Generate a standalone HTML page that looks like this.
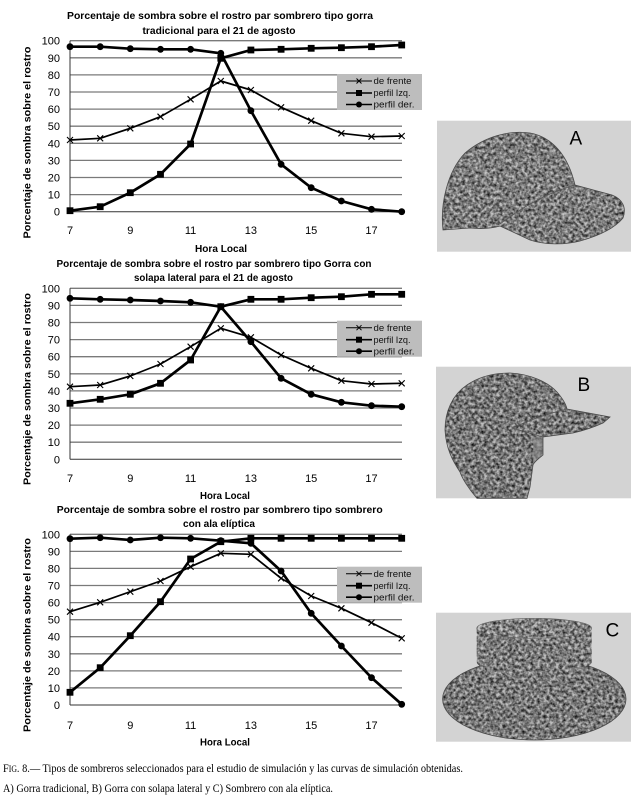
<!DOCTYPE html>
<html><head><meta charset="utf-8"><style>
html,body{margin:0;padding:0;background:#fff;}
svg{display:block;}
</style></head><body>
<svg width="638" height="802" viewBox="0 0 638 802" xmlns="http://www.w3.org/2000/svg">
<defs>
<marker id="mc" viewBox="-5 -5 10 10" markerWidth="10" markerHeight="10" refX="0" refY="0" markerUnits="userSpaceOnUse"><circle r="3.4" fill="#000"/></marker>
<marker id="ms" viewBox="-5 -5 10 10" markerWidth="10" markerHeight="10" refX="0" refY="0" markerUnits="userSpaceOnUse"><rect x="-3.4" y="-3.4" width="6.8" height="6.8" fill="#000"/></marker>
<marker id="mx" viewBox="-5 -5 10 10" markerWidth="10" markerHeight="10" refX="0" refY="0" markerUnits="userSpaceOnUse"><path d="M-3,-3L3,3M-3,3L3,-3" stroke="#000" stroke-width="1.1" fill="none"/></marker>
<filter id="tex" x="0%" y="0%" width="100%" height="100%" color-interpolation-filters="sRGB">
<feTurbulence type="fractalNoise" baseFrequency="0.32" numOctaves="2" seed="7" result="n"/>
<feColorMatrix in="n" type="matrix" values="1.5 0 0 0 -0.12  1.5 0 0 0 -0.12  1.5 0 0 0 -0.12  0 0 0 0 1" result="g"/>
<feBlend in="g" in2="SourceGraphic" mode="multiply" result="m"/>
<feComposite in="m" in2="SourceGraphic" operator="in"/>
</filter>
</defs>
<rect width="638" height="802" fill="#fff"/>

<g font-family="'Liberation Sans', sans-serif">
<!-- ============ CHART 1 ============ -->
<g>
<text x="220" y="19" font-size="10.5" font-weight="bold" text-anchor="middle" textLength="306" lengthAdjust="spacingAndGlyphs">Porcentaje de sombra sobre  el rostro par sombrero tipo gorra</text>
<text x="219" y="34" font-size="10.5" font-weight="bold" text-anchor="middle" textLength="153" lengthAdjust="spacingAndGlyphs">tradicional para el 21 de agosto</text>
<g stroke="#7a7a7a" stroke-width="1.3">
<line x1="70" x2="402" y1="40.7" y2="40.7"/><line x1="70" x2="402" y1="57.8" y2="57.8"/><line x1="70" x2="402" y1="74.9" y2="74.9"/><line x1="70" x2="402" y1="92" y2="92"/><line x1="70" x2="402" y1="109.1" y2="109.1"/><line x1="70" x2="402" y1="126.2" y2="126.2"/><line x1="70" x2="402" y1="143.3" y2="143.3"/><line x1="70" x2="402" y1="160.4" y2="160.4"/><line x1="70" x2="402" y1="177.5" y2="177.5"/><line x1="70" x2="402" y1="194.6" y2="194.6"/>
</g>
<line x1="70" x2="402" y1="211.7" y2="211.7" stroke="#333" stroke-width="1"/>
<line x1="70" x2="70" y1="40.7" y2="211.7" stroke="#333" stroke-width="1"/>
<g font-size="11" text-anchor="end" fill="#000">
<text x="60" y="44.7">100</text><text x="60" y="61.8">90</text><text x="60" y="78.9">80</text><text x="60" y="96">70</text><text x="60" y="113.1">60</text><text x="60" y="130.2">50</text><text x="60" y="147.3">40</text><text x="60" y="164.4">30</text><text x="60" y="181.5">20</text><text x="60" y="198.6">10</text><text x="60" y="215.7">0</text>
</g>
<g font-size="11" text-anchor="middle" fill="#000">
<text x="70" y="234">7</text><text x="130.3" y="234">9</text><text x="190.6" y="234">11</text><text x="250.9" y="234">13</text><text x="311.2" y="234">15</text><text x="371.5" y="234">17</text>
</g>
<text x="221" y="252" font-size="10.5" font-weight="bold" text-anchor="middle" textLength="52" lengthAdjust="spacingAndGlyphs">Hora Local</text>
<text transform="translate(30.5,142.5) rotate(-90)" font-size="10.5" font-weight="bold" text-anchor="middle" textLength="192" lengthAdjust="spacingAndGlyphs">Porcentaje de sombra sobre  el rostro</text>
<polyline fill="none" stroke="#000" stroke-width="1.7" stroke-linejoin="round" marker-start="url(#mx)" marker-mid="url(#mx)" marker-end="url(#mx)" points="70,140 100.2,138.3 130.3,128.3 160.5,116.7 190.6,99.3 220.8,81 250.9,90 281.1,107.3 311.2,120.7 341.4,133.3 371.5,136.7 401.7,136"/>
<polyline fill="none" stroke="#000" stroke-width="2.7" stroke-linejoin="round" marker-start="url(#ms)" marker-mid="url(#ms)" marker-end="url(#ms)" points="70,210.7 100.2,206.7 130.3,192.7 160.5,174.3 190.6,144 220.8,58.3 250.9,50 281.1,49.3 311.2,48.3 341.4,47.7 371.5,46.7 401.7,45"/>
<polyline fill="none" stroke="#000" stroke-width="2.7" stroke-linejoin="round" marker-start="url(#mc)" marker-mid="url(#mc)" marker-end="url(#mc)" points="70,46.7 100.2,46.7 130.3,48.7 160.5,49.3 190.6,49.3 220.8,53.3 250.9,110.7 281.1,164.3 311.2,187.7 341.4,201 371.5,209.3 401.7,211.7"/>
<g transform="translate(0,74)">
<rect x="337" y="0" width="85" height="36" fill="#bdbdbd"/>
<line x1="346" x2="372" y1="7" y2="7" stroke="#000" stroke-width="1"/><path d="M356.5,4.5L361.5,9.5M356.5,9.5L361.5,4.5" stroke="#000" stroke-width="1"/>
<line x1="346" x2="372" y1="19" y2="19" stroke="#000" stroke-width="1.6"/><rect x="356" y="16" width="6" height="6" fill="#000"/>
<line x1="346" x2="372" y1="30.5" y2="30.5" stroke="#000" stroke-width="1.6"/><circle cx="359" cy="30.5" r="3" fill="#000"/>
<g font-size="9" fill="#111"><text x="373.5" y="10.2" textLength="38" lengthAdjust="spacingAndGlyphs">de frente</text><text x="373.5" y="22.2" textLength="37" lengthAdjust="spacingAndGlyphs">perfil Izq.</text><text x="373.5" y="33.7" textLength="41" lengthAdjust="spacingAndGlyphs">perfil der.</text></g>
</g>
</g>

<!-- ============ CHART 2 ============ -->
<g>
<text x="214" y="267" font-size="10.5" font-weight="bold" text-anchor="middle" textLength="315" lengthAdjust="spacingAndGlyphs">Porcentaje de sombra sobre  el rostro par sombrero tipo Gorra con</text>
<text x="213.5" y="281" font-size="10.5" font-weight="bold" text-anchor="middle" textLength="159" lengthAdjust="spacingAndGlyphs">solapa lateral para el 21 de agosto</text>
<g stroke="#7a7a7a" stroke-width="1.3">
<line x1="70" x2="402" y1="288.3" y2="288.3"/><line x1="70" x2="402" y1="305.4" y2="305.4"/><line x1="70" x2="402" y1="322.5" y2="322.5"/><line x1="70" x2="402" y1="339.6" y2="339.6"/><line x1="70" x2="402" y1="356.7" y2="356.7"/><line x1="70" x2="402" y1="373.8" y2="373.8"/><line x1="70" x2="402" y1="390.9" y2="390.9"/><line x1="70" x2="402" y1="408" y2="408"/><line x1="70" x2="402" y1="425.1" y2="425.1"/><line x1="70" x2="402" y1="442.2" y2="442.2"/>
</g>
<line x1="70" x2="402" y1="459.3" y2="459.3" stroke="#333" stroke-width="1"/>
<line x1="70" x2="70" y1="288.3" y2="459.3" stroke="#333" stroke-width="1"/>
<g font-size="11" text-anchor="end" fill="#000">
<text x="60" y="292.3">100</text><text x="60" y="309.4">90</text><text x="60" y="326.5">80</text><text x="60" y="343.6">70</text><text x="60" y="360.7">60</text><text x="60" y="377.8">50</text><text x="60" y="394.9">40</text><text x="60" y="412">30</text><text x="60" y="429.1">20</text><text x="60" y="446.2">10</text><text x="60" y="463.3">0</text>
</g>
<g font-size="11" text-anchor="middle" fill="#000">
<text x="70" y="482">7</text><text x="130.3" y="482">9</text><text x="190.6" y="482">11</text><text x="250.9" y="482">13</text><text x="311.2" y="482">15</text><text x="371.5" y="482">17</text>
</g>
<text x="225" y="499" font-size="10.5" font-weight="bold" text-anchor="middle" textLength="50" lengthAdjust="spacingAndGlyphs">Hora Local</text>
<text transform="translate(30.5,389) rotate(-90)" font-size="10.5" font-weight="bold" text-anchor="middle" textLength="192" lengthAdjust="spacingAndGlyphs">Porcentaje de sombra sobre  el rostro</text>
<polyline fill="none" stroke="#000" stroke-width="1.7" stroke-linejoin="round" marker-start="url(#mx)" marker-mid="url(#mx)" marker-end="url(#mx)" points="70,386.7 100.2,385 130.3,376 160.5,364 190.6,346.7 220.8,328.3 250.9,337.3 281.1,355 311.2,368.3 341.4,380.7 371.5,384 401.7,383.3"/>
<polyline fill="none" stroke="#000" stroke-width="2.7" stroke-linejoin="round" marker-start="url(#ms)" marker-mid="url(#ms)" marker-end="url(#ms)" points="70,403.3 100.2,399.3 130.3,394.3 160.5,383.3 190.6,360 220.8,306.7 250.9,299.3 281.1,299.3 311.2,297.7 341.4,296.7 371.5,294.3 401.7,294.3"/>
<polyline fill="none" stroke="#000" stroke-width="2.7" stroke-linejoin="round" marker-start="url(#mc)" marker-mid="url(#mc)" marker-end="url(#mc)" points="70,298.3 100.2,299.3 130.3,300 160.5,301 190.6,302.3 220.8,306.7 250.9,341.7 281.1,378.3 311.2,394.3 341.4,402.3 371.5,405.7 401.7,406.7"/>
<g transform="translate(0,320.7)">
<rect x="337" y="0" width="85" height="36" fill="#bdbdbd"/>
<line x1="346" x2="372" y1="7" y2="7" stroke="#000" stroke-width="1"/><path d="M356.5,4.5L361.5,9.5M356.5,9.5L361.5,4.5" stroke="#000" stroke-width="1"/>
<line x1="346" x2="372" y1="19" y2="19" stroke="#000" stroke-width="1.6"/><rect x="356" y="16" width="6" height="6" fill="#000"/>
<line x1="346" x2="372" y1="30.5" y2="30.5" stroke="#000" stroke-width="1.6"/><circle cx="359" cy="30.5" r="3" fill="#000"/>
<g font-size="9" fill="#111"><text x="373.5" y="10.2" textLength="38" lengthAdjust="spacingAndGlyphs">de frente</text><text x="373.5" y="22.2" textLength="37" lengthAdjust="spacingAndGlyphs">perfil Izq.</text><text x="373.5" y="33.7" textLength="41" lengthAdjust="spacingAndGlyphs">perfil der.</text></g>
</g>
</g>

<!-- ============ CHART 3 ============ -->
<g>
<text x="219.7" y="513" font-size="10.5" font-weight="bold" text-anchor="middle" textLength="326" lengthAdjust="spacingAndGlyphs">Porcentaje de sombra sobre  el rostro par sombrero tipo sombrero</text>
<text x="219" y="527" font-size="10.5" font-weight="bold" text-anchor="middle" textLength="72" lengthAdjust="spacingAndGlyphs">con ala elíptica</text>
<g stroke="#7a7a7a" stroke-width="1.3">
<line x1="70" x2="402" y1="534.3" y2="534.3"/><line x1="70" x2="402" y1="551.4" y2="551.4"/><line x1="70" x2="402" y1="568.4" y2="568.4"/><line x1="70" x2="402" y1="585.5" y2="585.5"/><line x1="70" x2="402" y1="602.6" y2="602.6"/><line x1="70" x2="402" y1="619.7" y2="619.7"/><line x1="70" x2="402" y1="636.7" y2="636.7"/><line x1="70" x2="402" y1="653.8" y2="653.8"/><line x1="70" x2="402" y1="670.9" y2="670.9"/><line x1="70" x2="402" y1="687.9" y2="687.9"/>
</g>
<line x1="70" x2="402" y1="705" y2="705" stroke="#333" stroke-width="1"/>
<line x1="70" x2="70" y1="534.3" y2="705" stroke="#333" stroke-width="1"/>
<g font-size="11" text-anchor="end" fill="#000">
<text x="60" y="538.3">100</text><text x="60" y="555.4">90</text><text x="60" y="572.4">80</text><text x="60" y="589.5">70</text><text x="60" y="606.6">60</text><text x="60" y="623.7">50</text><text x="60" y="640.7">40</text><text x="60" y="657.8">30</text><text x="60" y="674.9">20</text><text x="60" y="691.9">10</text><text x="60" y="709">0</text>
</g>
<g font-size="11" text-anchor="middle" fill="#000">
<text x="70" y="729">7</text><text x="130.3" y="729">9</text><text x="190.6" y="729">11</text><text x="250.9" y="729">13</text><text x="311.2" y="729">15</text><text x="371.5" y="729">17</text>
</g>
<text x="225" y="745.5" font-size="10.5" font-weight="bold" text-anchor="middle" textLength="50" lengthAdjust="spacingAndGlyphs">Hora Local</text>
<text transform="translate(30.5,635) rotate(-90)" font-size="10.5" font-weight="bold" text-anchor="middle" textLength="194" lengthAdjust="spacingAndGlyphs">Porcentaje de sombra sobre  el rostro</text>
<polyline fill="none" stroke="#000" stroke-width="1.7" stroke-linejoin="round" marker-start="url(#mx)" marker-mid="url(#mx)" marker-end="url(#mx)" points="70,611.7 100.2,602.3 130.3,591.7 160.5,581 190.6,566.7 220.8,553.3 250.9,554.3 281.1,578.3 311.2,596 341.4,608.3 371.5,622.7 401.7,638.3"/>
<polyline fill="none" stroke="#000" stroke-width="2.7" stroke-linejoin="round" marker-start="url(#ms)" marker-mid="url(#ms)" marker-end="url(#ms)" points="70,692.3 100.2,667.7 130.3,635.7 160.5,601.7 190.6,559 220.8,541.7 250.9,538.3 281.1,538.3 311.2,538.3 341.4,538.3 371.5,538.3 401.7,538.3"/>
<polyline fill="none" stroke="#000" stroke-width="2.7" stroke-linejoin="round" marker-start="url(#mc)" marker-mid="url(#mc)" marker-end="url(#mc)" points="70,538.7 100.2,537.7 130.3,540 160.5,537.7 190.6,538.3 220.8,540.7 250.9,543.3 281.1,571 311.2,613.3 341.4,646 371.5,677.7 401.7,704.3"/>
<g transform="translate(0,566.7)">
<rect x="337" y="0" width="85" height="36" fill="#bdbdbd"/>
<line x1="346" x2="372" y1="7" y2="7" stroke="#000" stroke-width="1"/><path d="M356.5,4.5L361.5,9.5M356.5,9.5L361.5,4.5" stroke="#000" stroke-width="1"/>
<line x1="346" x2="372" y1="19" y2="19" stroke="#000" stroke-width="1.6"/><rect x="356" y="16" width="6" height="6" fill="#000"/>
<line x1="346" x2="372" y1="30.5" y2="30.5" stroke="#000" stroke-width="1.6"/><circle cx="359" cy="30.5" r="3" fill="#000"/>
<g font-size="9" fill="#111"><text x="373.5" y="10.2" textLength="38" lengthAdjust="spacingAndGlyphs">de frente</text><text x="373.5" y="22.2" textLength="37" lengthAdjust="spacingAndGlyphs">perfil Izq.</text><text x="373.5" y="33.7" textLength="41" lengthAdjust="spacingAndGlyphs">perfil der.</text></g>
</g>
</g>
</g>

<!-- ============ HAT A ============ -->
<rect x="437" y="120.7" width="194" height="131" fill="#d3d3d3"/>
<path d="M443,230 C440,205 447,172 465,153 C485,136 510,130 530,133 C552,137 568,155 575,185 L612,195 C622,199 627,207 623,218 C614,229 598,236 580,241 C565,245 545,245 530,240 L500,226 C490,229 480,229 470,228 Z" fill="#c4c4c4" filter="url(#tex)"/>
<path d="M443,230 C440,205 447,172 465,153 C485,136 510,130 530,133 C552,137 568,155 575,185 L612,195 C622,199 627,207 623,218 C614,229 598,236 580,241 C565,245 545,245 530,240 L500,226 C490,229 480,229 470,228 Z" fill="none" stroke="#4a4a4a" stroke-width="0.8"/>
<path d="M500,224 C525,205 550,192 575,185" fill="none" stroke="#555" stroke-width="0.8"/>
<text x="569.5" y="144.3" font-family="'Liberation Sans', sans-serif" font-size="19" fill="#000">A</text>

<!-- ============ HAT B ============ -->
<rect x="436" y="366.7" width="195" height="131.6" fill="#d3d3d3"/>
<path d="M445,430 C445,412 452,395 467,385 C480,376 496,373 510,373 C530,374 548,382 557,392 C563,399 566,404 567,409 L610,417 L603,423 C592,428 582,431 573,433 L543,437 L543,455 C538,459 534,462 533,465 L530,487 L527,498.3 L477,498.3 C468,488 462,478 460,472 C452,460 446,448 445,430 Z" fill="#bdbdbd" filter="url(#tex)"/>
<path d="M533,437 L543,437 L543,455 C538,459 534,462 533,465 Z" fill="#8a8a8a" opacity="0.6"/>
<path d="M445,430 C445,412 452,395 467,385 C480,376 496,373 510,373 C530,374 548,382 557,392 C563,399 566,404 567,409 L610,417 L603,423 C592,428 582,431 573,433 L543,437 L543,455 C538,459 534,462 533,465 L530,487 L527,498.3 L477,498.3 C468,488 462,478 460,472 C452,460 446,448 445,430 Z" fill="none" stroke="#4a4a4a" stroke-width="0.8"/>
<path d="M512,428 L543,437 M512,428 C530,420 550,413 567,409" fill="none" stroke="#555" stroke-width="0.8"/>
<text x="577.5" y="391" font-family="'Liberation Sans', sans-serif" font-size="19" fill="#000">B</text>

<!-- ============ HAT C ============ -->
<rect x="436" y="612.7" width="195" height="129" fill="#d3d3d3"/>
<ellipse cx="534.3" cy="699" rx="91.7" ry="41" fill="#bebebe" filter="url(#tex)"/>
<ellipse cx="534.3" cy="699" rx="91.7" ry="41" fill="none" stroke="#4a4a4a" stroke-width="0.8"/>
<path d="M476.7,628.3 L476.7,662 A57.5,12 0 0 0 591.7,662 L591.7,628.3 Z" fill="#c2c2c2" filter="url(#tex)"/>
<ellipse cx="534.2" cy="628.3" rx="57.5" ry="10" fill="#c8c8c8" filter="url(#tex)"/>
<ellipse cx="534.2" cy="628.3" rx="57.5" ry="10" fill="none" stroke="#666" stroke-width="0.6"/>
<text x="605.5" y="636.7" font-family="'Liberation Sans', sans-serif" font-size="19" fill="#000">C</text>

<!-- ============ CAPTION ============ -->
<g font-family="'Liberation Serif', serif" fill="#000">
<text x="3" y="772" font-size="12" textLength="460" lengthAdjust="spacingAndGlyphs">F<tspan font-size="9">IG</tspan>. 8.— Tipos de sombreros seleccionados para el estudio de simulación y las curvas de simulación obtenidas.</text>
<text x="3" y="792" font-size="12" textLength="330" lengthAdjust="spacingAndGlyphs">A) Gorra tradicional, B) Gorra con solapa lateral y C) Sombrero con ala elíptica.</text>
</g>
</svg>
</body></html>
